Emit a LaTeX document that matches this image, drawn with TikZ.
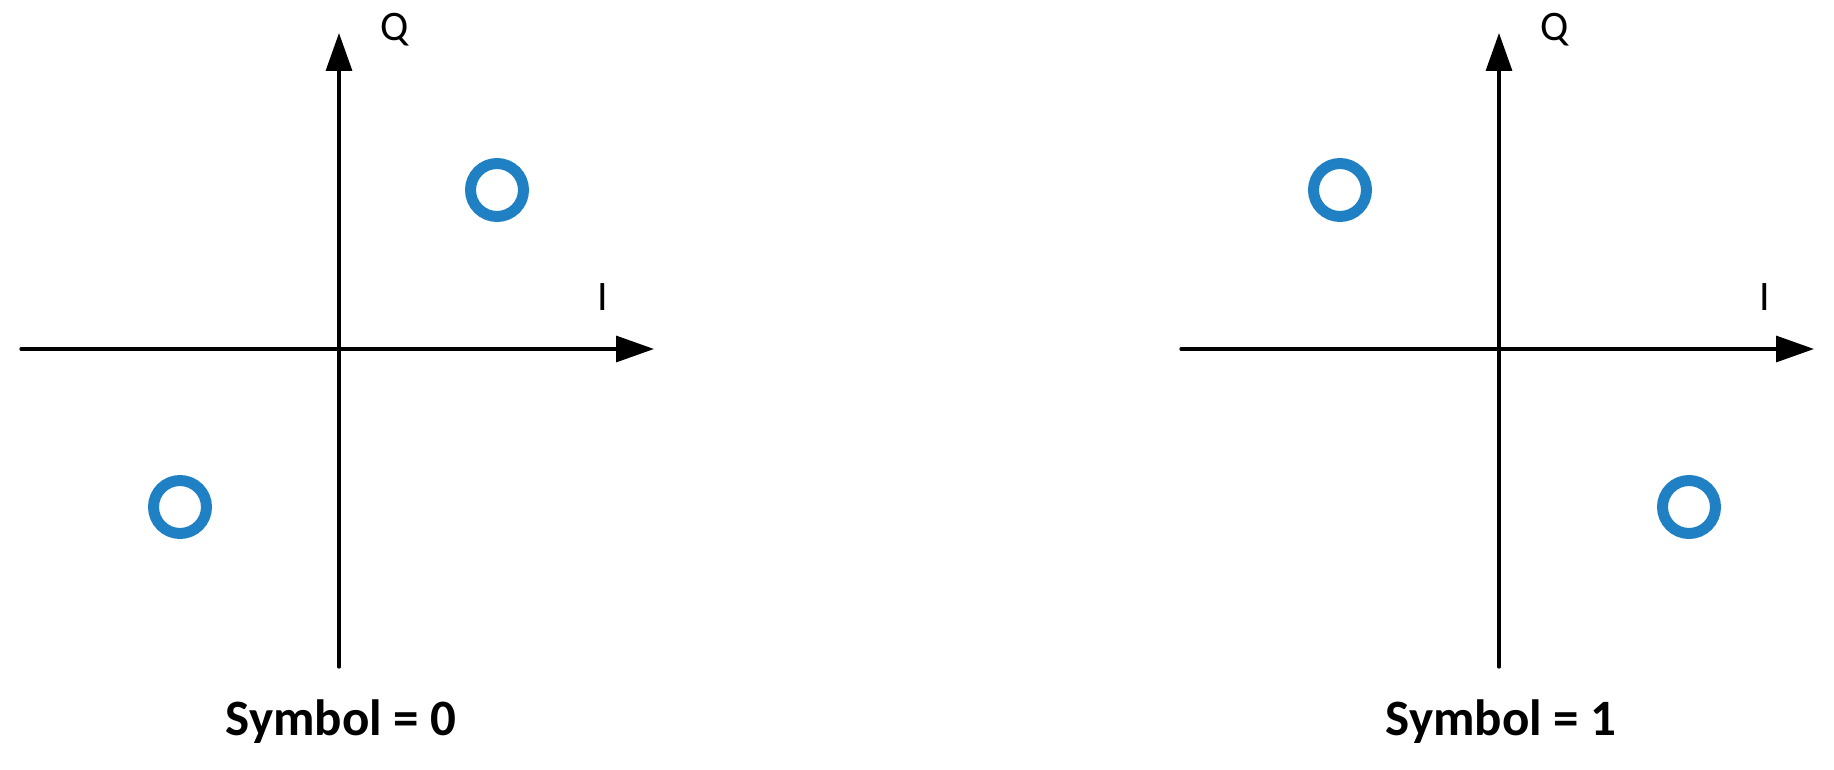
\documentclass[tikz,border=0pt]{standalone}
\usepackage{fontspec}
\setmainfont{Carlito}
\usetikzlibrary{arrows.meta}
\definecolor{ptblue}{RGB}{31,128,196}
\tikzset{
  axis/.style={line width=3.3pt, line cap=round, -{Triangle[length=38pt,width=26pt]}},
  pt/.style={circle, draw=ptblue, line width=11pt, minimum size=53pt, inner sep=0pt, fill=white},
  axlabel/.style={font=\fontsize{42}{44}\selectfont, inner sep=0pt},
  caption/.style={font=\fontsize{51}{56}\selectfont\bfseries, inner sep=0pt, anchor=base}
}
\begin{document}
\begin{tikzpicture}[x=1pt,y=-1pt]
\useasboundingbox (0,0) rectangle (1834,770);
% left panel
\coordinate (lvb) at (339,667);
\coordinate (lvt) at (339,33);
\coordinate (lhl) at (21,349);
\coordinate (lhr) at (654,349);
\draw[axis] (lvb) -- (lvt);
\draw[axis] (lhl) -- (lhr);
\node[axlabel] (lq) at (395,30) {Q};
\node[axlabel] (li) at (603,297) {I};
\node[pt] (l1) at (497,190) {};
\node[pt] (l2) at (180,507) {};
\node[caption] (lc) at (341,735) {Symbol = 0};
% right panel
\coordinate (rvb) at (1499,667);
\coordinate (rvt) at (1499,33);
\coordinate (rhl) at (1181,349);
\coordinate (rhr) at (1814,349);
\draw[axis] (rvb) -- (rvt);
\draw[axis] (rhl) -- (rhr);
\node[axlabel] (rq) at (1555,30) {Q};
\node[axlabel] (ri) at (1765,297) {I};
\node[pt] (r1) at (1340,190) {};
\node[pt] (r2) at (1689,507) {};
\node[caption] (rc) at (1501,735) {Symbol = 1};
\end{tikzpicture}
\end{document}
